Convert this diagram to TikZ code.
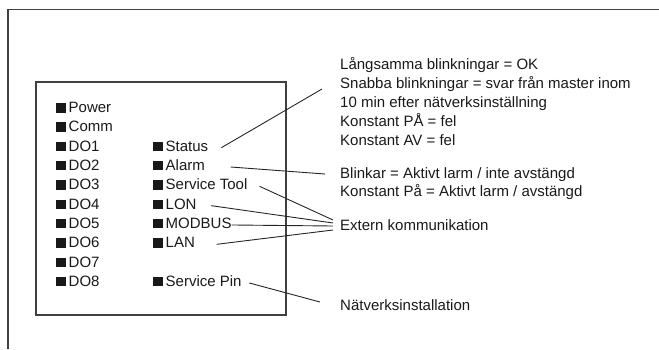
\documentclass[tikz,border=0pt]{standalone}
\usepackage{fontspec}
\setmainfont{Liberation Sans}
\newcommand{\ledbox}{\textcolor{black!90}{\rule{10.5pt}{9.5pt}}\hspace{2.5pt}}

\begin{document}
\begin{tikzpicture}[x=1pt,y=-1pt,
    led/.style={anchor=base west,inner sep=0pt,text height=7pt,text depth=0pt,text=black!90,font=\fontsize{15}{18}\selectfont},
    note/.style={anchor=base west,inner sep=0pt,text=black!90,font=\fontsize{15}{18}\selectfont},
    wire/.style={black!85,line width=0.9pt}]
    \useasboundingbox (0,0) rectangle (659,349);
    \pgfmathsetmacro{\rowgap}{19.33}

    %draw frames
    \draw[black!75,line width=1.2pt] (659,9.3) -- (8,9.3) -- (8,349);
    \draw[black!75,line width=1.2pt] (36,82) rectangle (286,315);

    %left column of leds
    \foreach \name [count=\i] in {Power,Comm,DO1,DO2,DO3,DO4,DO5,DO6,DO7,DO8}{
        \node[led] (led\i) at (55.5,{112.5+(\i-1)*\rowgap}) {\ledbox\name};
    }
    %right column of leds
    \foreach \row/\name/\label in {3/status/Status,4/alarm/Alarm,5/tool/Service Tool,6/lon/LON,7/modbus/MODBUS,8/lan/LAN,10/pin/Service Pin}{
        \node[led] (\name) at (152.5,{112.5+(\row-1)*\rowgap}) {\ledbox\label};
    }

    %explanations
    \node[note] (slow) at (340,69.3) {Långsamma blinkningar = OK};
    \node[note] (fast) at (340,88.2) {Snabba blinkningar = svar från master inom};
    \node[note] (fast2) at (340,107.1) {10 min efter nätverksinställning};
    \node[note] (on) at (340,126) {Konstant PÅ = fel};
    \node[note] (off) at (340,145) {Konstant AV = fel};
    \node[note] (blink) at (340,178) {Blinkar = Aktivt larm / inte avstängd};
    \node[note] (steady) at (340,196.7) {Konstant På = Aktivt larm / avstängd};
    \node[note] (extern) at (340,230.7) {Extern kommunikation};
    \node[note] (netinst) at (340,310.7) {Nätverksinstallation};

    %line ends
    \coordinate (statusEnd) at (322,89);
    \coordinate (alarmEnd) at (325,174);
    \coordinate (toolEnd) at (333,220);
    \coordinate (lonEnd) at (333,223);
    \coordinate (modbusEnd) at (333,226);
    \coordinate (lanEnd) at (333,230);
    \coordinate (pinEnd) at (320,302);

    %draw connectors
    \draw[wire] ([xshift=13pt]status.east) -- (statusEnd);
    \draw[wire] ([xshift=25.5pt]alarm.east) -- (alarmEnd);
    \draw[wire] ([xshift=12pt]tool.east) -- (toolEnd);
    \draw[wire] ([xshift=14.5pt]lon.east) -- (lonEnd);
    \draw[wire] (modbus.east) -- (modbusEnd);
    \draw[wire] ([xshift=21.5pt]lan.east) -- (lanEnd);
    \draw[wire] ([xshift=7.5pt]pin.east) -- (pinEnd);
\end{tikzpicture}
\end{document}
